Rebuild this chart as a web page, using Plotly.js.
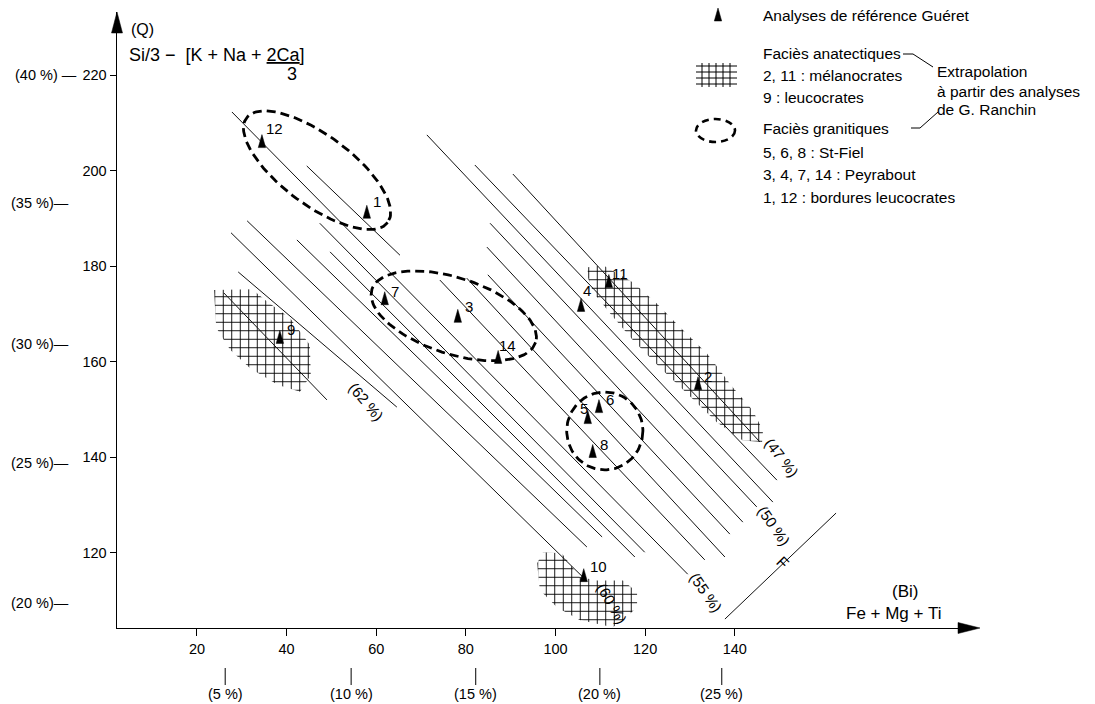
<!DOCTYPE html>
<html><head><meta charset="utf-8">
<script src="https://cdn.plot.ly/plotly-3.0.1.min.js"></script>
<style>html,body{margin:0;padding:0;background:#fff}#chart{width:1095px;height:704px}</style>
</head><body><div id="chart"></div>
<script>
// ---------------- data ----------------
const POINT_LABELS = ['12','1','7','3','14','9','4','11','2','5','6','8','10'];
const POINT_X = [34.5, 57.9, 61.9, 78.2, 87.2, 38.5, 105.7, 111.9, 131.8, 107.2, 109.7, 108.3, 106.3];
const POINT_Y = [206.2, 191.4, 173.3, 169.6, 161.0, 165.2, 171.9, 176.9, 155.5, 148.4, 150.7, 141.3, 115.3];

// iso-lines (start / end, data units)
const LINE_X1 = [27.8, 44.5, 74.2, 80.2, 84.9, 84.7, 85.4, 71.3, 82.0, 90.5, 47.4, 49.7, 42.3, 31.2, 27.6, 29.2, 26.0];
const LINE_Y1 = [212.3, 201.0, 177.1, 177.5, 178.2, 184.0, 189.0, 207.5, 201.2, 199.3, 189.0, 183.0, 185.5, 189.5, 187.0, 178.8, 174.4];
const LINE_X2 = [129.5, 65.3, 133.3, 137.8, 138.9, 141.8, 144.9, 148.5, 149.4, 145.6, 119.9, 117.7, 110.4, 107.0, 106.1, 64.6, 49.0];
const LINE_Y2 = [115.5, 182.3, 118.5, 119.1, 123.9, 126.4, 129.6, 130.6, 135.2, 143.2, 120.1, 119.1, 123.3, 121.2, 114.9, 150.5, 152.0];

const LINE_LABELS = ['(47 %)', '(50 %)', '(55 %)', '(60 %)', '(62 %)'];
const LINE_LABEL_X = [150.5, 148.7, 133.6, 112.6, 57.7];
const LINE_LABEL_Y = [140.0, 125.7, 111.7, 109.4, 151.6];

const F_LINE_X = [137.8, 162.6];
const F_LINE_Y = [106.1, 128.3];
const F_LABEL_X = 150.7, F_LABEL_Y = 118.0;

// cross-hatched areas (anatectic facies)
const HATCH9_X = [23.8, 32.3, 35.2, 40.8, 45.2, 45.4, 43.0, 38.1, 31.8, 27.4, 24.3];
const HATCH9_Y = [175.0, 175.2, 172.9, 169.1, 163.5, 157.2, 153.7, 155.1, 158.7, 162.5, 167.1];
const HATCH_BAND_X = [107.2, 110.6, 117.3, 122.6, 127.8, 133.8, 139.6, 144.0, 146.3, 146.1, 141.8, 136.0, 129.3, 123.3, 117.3, 112.1, 108.4, 107.2];
const HATCH_BAND_Y = [179.8, 180.2, 176.6, 172.2, 167.2, 161.7, 154.6, 149.8, 145.6, 143.2, 143.5, 147.3, 153.4, 158.8, 164.5, 170.2, 174.6, 177.7];
const HATCH10_X = [97.2, 101.4, 105.4, 109.2, 115.1, 118.2, 118.2, 115.1, 112.8, 105.4, 100.3, 96.5, 95.9];
const HATCH10_Y = [120.1, 119.9, 114.9, 114.2, 114.2, 111.7, 108.6, 105.9, 104.4, 105.9, 108.6, 112.2, 117.8];

// dashed ellipses (granitic facies): centre, semi-axes (x units), tilt (deg)
const ELLIPSE_CX = [46.8, 77.3, 111.0];
const ELLIPSE_CY = [200.1, 169.6, 145.5];
const ELLIPSE_A = [19.6, 19.2, 8.5];
const ELLIPSE_B = [7.8, 8.5, 8.7];
const ELLIPSE_ANGLE = [36.5, 18, 0];

const X_TICKS = [20, 40, 60, 80, 100, 120, 140];
const Y_TICKS = [120, 140, 160, 180, 200, 220];
const X_PCT_LABELS = ['(5 %)', '(10 %)', '(15 %)', '(20 %)', '(25 %)'];
const X_PCT_POS = [26.3, 54.4, 82.2, 109.9, 137.1];
const Y_PCT_LABELS = ['(40 %) —', '(35 %)—', '(30 %)—', '(25 %)—', '(20 %)—'];
const Y_PCT_POS = [220, 193.2, 163.7, 138.8, 109.5];

// ---------------- layout constants / styles ----------------
const W = 1095, H = 704, M = {l: 117, r: 120, t: 12, b: 76};
const X_RANGE = [2.16, 193.6], Y_RANGE = [104.23, 233.24];
const plotW = W - M.l - M.r, plotH = H - M.t - M.b;
const kx = plotW / (X_RANGE[1] - X_RANGE[0]);
const ky = plotH / (Y_RANGE[1] - Y_RANGE[0]);
const PX = p => (p - M.l) / plotW;
const PY = p => (H - M.b - p) / plotH;
const FONT = 'Liberation Sans, Arial, Helvetica, sans-serif';
const INK = '#000';
const LABEL_DX = [2, 4, 4, 5, -1, 5, 0, 1, 4, -10, 5, 5, 4];
const LABEL_DY = [13, 10, 7, 9, 11, 7, 14, 8, 7, 9, 7, 7, 9];
const LINE_LABEL_ANGLE = [52, 55, 55, 60, 50];

const traces = [];
const hatch = (xs, ys) => ({
  type: 'scatter', mode: 'lines', x: xs.concat([xs[0]]), y: ys.concat([ys[0]]),
  fill: 'toself', fillcolor: 'rgba(255,255,255,0)', line: {width: 0, color: 'rgba(0,0,0,0)'},
  fillpattern: {shape: '+', size: 8.5, solidity: 0.2, fgcolor: '#000', bgcolor: 'rgba(255,255,255,0)'},
  hoverinfo: 'skip'
});
traces.push(hatch(HATCH9_X, HATCH9_Y), hatch(HATCH_BAND_X, HATCH_BAND_Y), hatch(HATCH10_X, HATCH10_Y));

// iso-lines
const lx = [], ly = [];
for (let i = 0; i < LINE_X1.length; i++) { lx.push(LINE_X1[i], LINE_X2[i], null); ly.push(LINE_Y1[i], LINE_Y2[i], null); }
traces.push({type: 'scatter', mode: 'lines', x: lx, y: ly, line: {color: '#111', width: 1}, hoverinfo: 'skip'});
traces.push({type: 'scatter', mode: 'lines', x: F_LINE_X, y: F_LINE_Y, line: {color: '#111', width: 1}, hoverinfo: 'skip'});

// dashed ellipses
const ex = [], ey = [];
for (let i = 0; i < ELLIPSE_CX.length; i++) {
  const th = ELLIPSE_ANGLE[i] * Math.PI / 180;
  for (let k = 0; k <= 120; k++) {
    const t = k / 120 * 2 * Math.PI;
    const u = ELLIPSE_A[i] * Math.cos(t), v = ELLIPSE_B[i] * Math.sin(t);
    const dxs = u * Math.cos(th) - v * Math.sin(th);
    const dys = u * Math.sin(th) + v * Math.cos(th);
    ex.push(ELLIPSE_CX[i] + dxs); ey.push(ELLIPSE_CY[i] - dys * kx / ky);
  }
  ex.push(null); ey.push(null);
}
traces.push({type: 'scatter', mode: 'lines', x: ex, y: ey, line: {color: INK, width: 2.8, dash: '9px,5px'}, hoverinfo: 'skip'});

// triangles (narrow, apex up)
const hw = 3.7 / kx, hh = 6.5 / ky;
const tx = [], ty = [];
for (let i = 0; i < POINT_X.length; i++) {
  tx.push(POINT_X[i] - hw, POINT_X[i] + hw, POINT_X[i], POINT_X[i] - hw, null);
  ty.push(POINT_Y[i] - hh, POINT_Y[i] - hh, POINT_Y[i] + hh, POINT_Y[i] - hh, null);
}
traces.push({type: 'scatter', mode: 'lines', x: tx, y: ty, fill: 'toself', fillcolor: '#000', line: {color: '#000', width: 0.5}, hoverinfo: 'skip'});

// ---------------- annotations ----------------
const ann = [];
const txt = (o) => Object.assign({showarrow: false, font: {family: FONT, size: 15.5, color: INK}}, o);
POINT_LABELS.forEach((s, i) => ann.push(txt({x: POINT_X[i], y: POINT_Y[i], text: s, xanchor: 'left', yanchor: 'middle', xshift: LABEL_DX[i], yshift: LABEL_DY[i], font: {family: FONT, size: 15, color: INK}})));
LINE_LABELS.forEach((s, i) => ann.push(txt({x: LINE_LABEL_X[i], y: LINE_LABEL_Y[i], text: s, textangle: LINE_LABEL_ANGLE[i], font: {family: FONT, size: 15, color: INK}})));
ann.push(txt({x: F_LABEL_X, y: F_LABEL_Y, text: 'F', textangle: 45, font: {family: FONT, size: 16, color: INK}}));
Y_PCT_LABELS.forEach((s, i) => ann.push(txt({xref: 'paper', x: PX(i === 0 ? 79 : 71), y: Y_PCT_POS[i], text: s, xanchor: 'right', yanchor: 'middle', font: {family: FONT, size: 14.5, color: INK}})));
X_PCT_LABELS.forEach((s, i) => ann.push(txt({x: X_PCT_POS[i], yref: 'paper', y: PY(694), text: s, xanchor: 'center', yanchor: 'middle', font: {family: FONT, size: 14.5, color: INK}})));
// axis titles
ann.push(txt({xref: 'paper', yref: 'paper', x: PX(129), y: PY(29), text: '(Q)', xanchor: 'left', yanchor: 'middle', font: {family: FONT, size: 16, color: INK}}));
ann.push(txt({xref: 'paper', yref: 'paper', x: PX(127), y: PY(55), text: 'Si/3 −&nbsp; [K + Na + <u>2Ca</u>]', xanchor: 'left', yanchor: 'middle', font: {family: FONT, size: 18, color: INK}}));
ann.push(txt({xref: 'paper', yref: 'paper', x: PX(292), y: PY(74), text: '3', xanchor: 'center', yanchor: 'middle', font: {family: FONT, size: 18, color: INK}}));
ann.push(txt({xref: 'paper', yref: 'paper', x: PX(905), y: PY(591), text: '(Bi)', xanchor: 'center', yanchor: 'middle', font: {family: FONT, size: 17, color: INK}}));
ann.push(txt({xref: 'paper', yref: 'paper', x: PX(893), y: PY(613), text: 'Fe + Mg + Ti', xanchor: 'center', yanchor: 'middle', font: {family: FONT, size: 17, color: INK}}));
// legend texts
const LEG = [['Analyses de référence Guéret', 15], ['Faciès anatectiques', 53], ['2, 11 : mélanocrates', 75], ['9 : leucocrates', 97],
  ['Faciès granitiques', 128], ['5, 6, 8 : St-Fiel', 152], ['3, 4, 7, 14 : Peyrabout', 174], ['1, 12 : bordures leucocrates', 197]];
LEG.forEach(([s, py]) => ann.push(txt({xref: 'paper', yref: 'paper', x: PX(761), y: PY(py), text: s, xanchor: 'left', yanchor: 'middle'})));
[['Extrapolation', 72], ['à partir des analyses', 91], ['de G. Ranchin', 110]].forEach(([s, py]) =>
  ann.push(txt({xref: 'paper', yref: 'paper', x: PX(935), y: PY(py), text: s, xanchor: 'left', yanchor: 'middle'})));

// ---------------- shapes ----------------
const shapes = [];
const pline = (x0, y0, x1, y1, w) => shapes.push({type: 'line', xref: 'paper', yref: 'paper', x0: PX(x0), y0: PY(y0), x1: PX(x1), y1: PY(y1), line: {color: INK, width: w || 1}});
const ppath = (pts, fill) => shapes.push({type: 'path', xref: 'paper', yref: 'paper',
  path: pts.map((p, i) => (i ? 'L' : 'M') + PX(p[0]) + ',' + PY(p[1])).join('') + 'Z', fillcolor: fill, line: {color: fill, width: 0.5}});
// axis arrowheads
ppath([[117, 12], [111.5, 33], [122.5, 33]], '#000');
ppath([[980, 628], [958, 622.5], [958, 633.5]], '#000');
// legend triangle
ppath([[718, 8], [714.3, 21], [721.7, 21]], '#000');
// legend hatch icon
[702, 709, 716, 723, 730].forEach(x => pline(x, 63, x, 87, 1));
[66, 72, 78, 84].forEach(y => pline(696, y, 737, y, 1));
// legend dashed ellipse
shapes.push({type: 'circle', xref: 'paper', yref: 'paper', x0: PX(696), x1: PX(735), y0: PY(119), y1: PY(142), line: {color: INK, width: 2.6, dash: '7px,5px'}});
// connectors
pline(903, 54, 913, 54, 1); pline(913, 54, 933, 67, 1);
pline(911, 128, 920, 128, 1); pline(920, 128, 938, 112, 1);
// bottom percentage ticks
X_PCT_POS.forEach(x => shapes.push({type: 'line', xref: 'x', yref: 'paper', x0: x, x1: x, y0: PY(668), y1: PY(685), line: {color: INK, width: 1}}));

const layout = {
  width: W, height: H, margin: M, paper_bgcolor: '#fff', plot_bgcolor: '#fff',
  showlegend: false, hovermode: false,
  xaxis: {range: X_RANGE, tickvals: X_TICKS, ticktext: X_TICKS.map(String), ticks: 'outside', ticklen: 7, tickwidth: 1, tickcolor: INK,
    showline: true, linecolor: INK, linewidth: 1.4, showgrid: false, zeroline: false, tickfont: {family: FONT, size: 14.5, color: INK}},
  yaxis: {range: Y_RANGE, tickvals: Y_TICKS, ticktext: Y_TICKS.map(String), ticks: 'outside', ticklen: 6, tickwidth: 1, tickcolor: INK,
    showline: true, linecolor: INK, linewidth: 1.4, showgrid: false, zeroline: false, tickfont: {family: FONT, size: 14.5, color: INK}},
  annotations: ann, shapes: shapes
};
Plotly.newPlot('chart', traces, layout, {staticPlot: true, displayModeBar: false});
</script></body></html>
